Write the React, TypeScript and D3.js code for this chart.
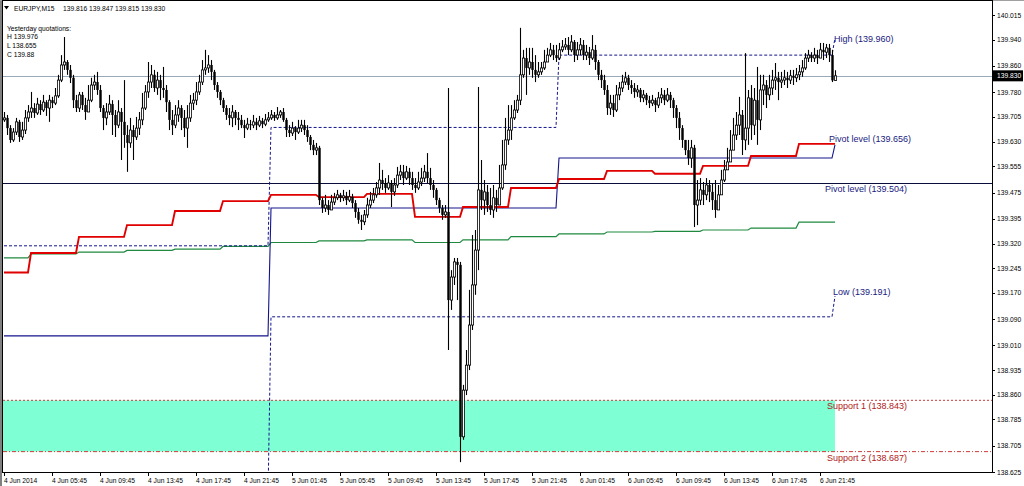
import React from 'react';
import * as d3 from 'd3';

const headerTexts = ['EURJPY,M15', '139.816 139.847 139.815 139.830'];
const yesterdayTexts = ['Yesterday quotations:', 'H 139.976', 'L 138.655', 'C 139.88'];

const firstOpen = 139.696;
const closes = [
  139.702,139.671,139.635,139.659,139.690,139.644,139.665,139.702,139.720,139.732,
  139.717,139.744,139.726,139.750,139.732,139.756,139.747,139.769,139.817,139.863,
  139.872,139.848,139.824,139.756,139.732,139.772,139.741,139.720,139.756,139.802,
  139.811,139.787,139.732,139.702,139.720,139.744,139.711,139.680,139.720,139.690,
  139.650,139.626,139.665,139.644,139.671,139.696,139.732,139.781,139.811,139.833,
  139.793,139.817,139.793,139.787,139.750,139.696,139.680,139.711,139.732,139.702,
  139.671,139.702,139.747,139.756,139.781,139.811,139.848,139.854,139.863,139.842,
  139.802,139.781,139.756,139.732,139.711,139.702,139.720,139.702,139.696,139.680,
  139.671,139.683,139.680,139.690,139.680,139.693,139.683,139.696,139.702,139.711,
  139.702,139.711,139.720,139.696,139.665,139.656,139.671,139.659,139.671,139.680,
  139.665,139.644,139.620,139.604,139.611,139.452,139.428,139.437,139.422,139.446,
  139.459,139.468,139.459,139.465,139.452,139.462,139.443,139.416,139.392,139.386,
  139.407,139.437,139.452,139.468,139.489,139.513,139.504,139.489,139.504,139.477,
  139.498,139.528,139.538,139.519,139.538,139.519,139.498,139.489,139.507,139.519,
  139.538,139.519,139.498,139.483,139.452,139.428,139.407,139.416,139.148,139.218,
  139.264,139.255,138.732,138.874,138.950,139.072,139.194,139.300,139.483,139.452,
  139.477,139.437,139.422,139.459,139.437,139.489,139.559,139.635,139.665,139.702,
  139.726,139.756,139.833,139.884,139.854,139.872,139.848,139.833,139.842,139.854,
  139.872,139.893,139.909,139.893,139.884,139.909,139.918,139.924,139.909,139.933,
  139.893,139.909,139.924,139.893,139.902,139.884,139.909,139.872,139.833,139.817,
  139.787,139.732,139.747,139.726,139.772,139.793,139.811,139.824,139.802,139.793,
  139.781,139.787,139.763,139.772,139.756,139.747,139.756,139.741,139.763,139.772,
  139.756,139.772,139.756,139.732,139.702,139.671,139.635,139.604,139.580,139.611,
  139.437,139.452,139.483,139.468,139.498,139.477,139.452,139.422,139.468,139.513,
  139.544,139.568,139.604,139.650,139.680,139.711,139.635,139.671,139.763,139.680,
  139.756,139.696,139.787,139.802,139.772,139.793,139.817,139.824,139.811,139.817,
  139.824,139.817,139.830,139.824,139.833,139.842,139.854,139.884,139.893,139.884,
  139.893,139.884,139.909,139.902,139.915,139.893,139.816,139.830,
];
const highs = [
  139.720,139.711,139.680,139.671,139.702,139.696,139.690,139.726,139.741,139.781,
  139.747,139.763,139.756,139.772,139.756,139.772,139.766,139.793,139.833,139.893,
  139.948,139.878,139.863,139.833,139.772,139.781,139.781,139.763,139.802,139.824,
  139.833,139.842,139.802,139.741,139.747,139.772,139.756,139.726,139.756,139.732,
  139.817,139.680,139.702,139.680,139.705,139.720,139.778,139.802,139.872,139.863,
  139.848,139.842,139.833,139.857,139.802,139.756,139.726,139.741,139.756,139.741,
  139.726,139.741,139.772,139.778,139.811,139.833,139.878,139.909,139.893,139.878,
  139.848,139.811,139.787,139.763,139.741,139.732,139.741,139.726,139.720,139.711,
  139.696,139.702,139.696,139.711,139.702,139.708,139.702,139.714,139.720,139.726,
  139.720,139.735,139.726,139.732,139.702,139.680,139.690,139.677,139.696,139.696,
  139.696,139.680,139.650,139.635,139.626,139.617,139.459,139.468,139.452,139.468,
  139.474,139.483,139.474,139.483,139.477,139.483,139.471,139.452,139.428,139.407,
  139.422,139.459,139.477,139.489,139.507,139.565,139.544,139.519,139.528,139.513,
  139.519,139.553,139.559,139.559,139.556,139.550,139.538,139.519,139.538,139.550,
  139.559,139.595,139.550,139.513,139.489,139.459,139.437,139.437,139.793,139.239,
  139.276,139.276,139.264,138.890,138.996,139.179,139.346,139.361,139.796,139.574,
  139.513,139.498,139.489,139.498,139.483,139.559,139.635,139.702,139.741,139.741,
  139.756,139.772,139.976,139.909,139.915,139.915,139.915,139.893,139.872,139.872,
  139.909,139.915,139.930,139.924,139.924,139.930,139.939,139.945,139.948,139.954,
  139.939,139.933,139.945,139.939,139.924,139.918,139.954,139.924,139.878,139.848,
  139.833,139.802,139.772,139.772,139.802,139.811,139.833,139.842,139.833,139.817,
  139.808,139.802,139.793,139.787,139.778,139.769,139.772,139.763,139.781,139.793,
  139.787,139.793,139.781,139.763,139.741,139.720,139.680,139.635,139.635,139.635,
  139.620,139.513,139.519,139.507,139.519,139.513,139.504,139.513,139.498,139.544,
  139.574,139.611,139.665,139.702,139.720,139.766,139.726,139.899,139.787,139.802,
  139.793,139.857,139.833,139.833,139.817,139.833,139.848,139.869,139.842,139.842,
  139.848,139.842,139.848,139.848,139.854,139.863,139.878,139.899,139.909,139.902,
  139.915,139.909,139.930,139.930,139.927,139.927,139.909,139.847,
];
const lows = [
  139.690,139.650,139.626,139.629,139.650,139.629,139.635,139.653,139.690,139.702,
  139.702,139.711,139.711,139.720,139.708,139.690,139.732,139.741,139.763,139.811,
  139.848,139.833,139.808,139.732,139.720,139.720,139.726,139.696,139.720,139.750,
  139.787,139.772,139.720,139.665,139.680,139.711,139.650,139.644,139.671,139.574,
  139.611,139.538,139.611,139.574,139.635,139.650,139.680,139.726,139.763,139.793,
  139.781,139.772,139.756,139.763,139.720,139.665,139.650,139.671,139.690,139.665,
  139.644,139.611,139.690,139.726,139.741,139.772,139.802,139.833,139.839,139.817,
  139.787,139.763,139.741,139.720,139.696,139.680,139.674,139.680,139.665,139.671,
  139.641,139.665,139.665,139.671,139.665,139.674,139.671,139.677,139.690,139.696,
  139.693,139.696,139.702,139.690,139.644,139.644,139.647,139.635,139.653,139.659,
  139.650,139.629,139.604,139.589,139.589,139.437,139.413,139.416,139.407,139.422,
  139.437,139.452,139.446,139.449,139.437,139.446,139.428,139.398,139.380,139.361,
  139.376,139.398,139.428,139.443,139.459,139.468,139.483,139.474,139.483,139.431,
  139.465,139.489,139.513,139.498,139.513,139.498,139.483,139.474,139.483,139.495,
  139.507,139.504,139.483,139.459,139.437,139.413,139.392,139.398,138.996,139.118,
  139.194,139.148,138.655,138.723,138.859,138.935,139.057,139.164,139.239,139.422,
  139.407,139.416,139.407,139.398,139.416,139.437,139.483,139.544,139.620,139.635,
  139.696,139.717,139.741,139.824,139.772,139.833,139.824,139.811,139.824,139.833,
  139.848,139.872,139.887,139.878,139.872,139.878,139.902,139.909,139.893,139.902,
  139.872,139.878,139.893,139.878,139.878,139.863,139.878,139.848,139.817,139.793,
  139.772,139.711,139.711,139.705,139.720,139.756,139.781,139.802,139.787,139.775,
  139.763,139.766,139.750,139.750,139.741,139.732,139.738,139.720,139.732,139.747,
  139.741,139.750,139.732,139.702,139.671,139.635,139.611,139.589,139.559,139.550,
  139.370,139.376,139.437,139.437,139.452,139.446,139.422,139.398,139.437,139.468,
  139.507,139.544,139.580,139.604,139.635,139.650,139.589,139.604,139.620,139.635,
  139.650,139.620,139.665,139.741,139.732,139.756,139.772,139.787,139.756,139.793,
  139.802,139.793,139.805,139.802,139.811,139.817,139.827,139.848,139.872,139.872,
  139.872,139.866,139.884,139.878,139.884,139.872,139.811,139.815,
];

// 4-hour moving levels (segment start bar indices)
const segStarts = [0, 9, 25, 41, 57, 73, 89, 105, 121, 137, 153, 169, 185, 201, 217, 233, 249, 265];
const redLevels = [139.232, 139.291, 139.340, 139.376, 139.419, 139.449, 139.468, 139.461, 139.471, 139.401, 139.431, 139.489, 139.516, 139.541, 139.532, 139.556, 139.586, 139.623];
const greenLevels = [139.276, 139.288, 139.294, 139.299, 139.303, 139.311, 139.323, 139.328, 139.331, 139.323, 139.331, 139.341, 139.349, 139.355, 139.357, 139.361, 139.367, 139.385];

// daily levels
const dayStarts = [0, 89, 185, 277];
const pivotLevels = [139.039, 139.428, 139.580, 139.620];
const highLevels = [139.313, 139.673, 139.893, 139.945];
const lowLevels = [138.550, 139.097, 139.097, 139.160];

const bidPrice = 139.830;
const dailyPivot = 139.504;
const support1 = 138.843;
const support2 = 138.687;

const yTicks = [140.015, 139.940, 139.860, 139.780, 139.705, 139.630, 139.555, 139.475, 139.395, 139.320, 139.245, 139.170, 139.090, 139.010, 138.935, 138.860, 138.785, 138.705, 138.625];
const xTickLabels = ['4 Jun 2014', '4 Jun 05:45', '4 Jun 09:45', '4 Jun 13:45', '4 Jun 17:45', '4 Jun 21:45', '5 Jun 01:45', '5 Jun 05:45', '5 Jun 09:45', '5 Jun 13:45', '5 Jun 17:45', '5 Jun 21:45', '6 Jun 01:45', '6 Jun 05:45', '6 Jun 09:45', '6 Jun 13:45', '6 Jun 17:45', '6 Jun 21:45'];
const xTickStep = 16;

const levelLabels = [
  { text: 'High (139.960)', value: 139.960, dx: -1, color: '#1a1a80' },
  { text: 'Pivot level (139.656)', value: 139.656, dx: -6, color: '#1a1a80' },
  { text: 'Pivot level (139.504)', value: 139.504, dx: -10, color: '#1a1a80' },
  { text: 'Low (139.191)', value: 139.191, dx: -2, color: '#1a1a80' },
  { text: 'Support 1 (138.843)', value: 138.843, dx: -8, color: '#b02020' },
  { text: 'Support 2 (138.687)', value: 138.687, dx: -8, color: '#b02020' },
];

const FONT = '"Liberation Sans", Arial, sans-serif';

export default function App() {
  const W = 1024, H = 486;
  const L = 3, R = 992, T = 1, B = 472;
  const n = closes.length;
  const x = d3.scaleLinear().domain([0, n - 1]).range([4, 835]);
  const y = d3.scaleLinear().domain([138.625, 140.015]).range([472, 15]);

  const perBar = (starts: number[], levels: number[]) =>
    closes.map((_, i) => levels[d3.bisectRight(starts, i) - 1]);
  const lineGen = d3.line<number>().x((_, i) => x(i)).y((v) => y(v));

  const red = perBar(segStarts, redLevels);
  const green = perBar(segStarts, greenLevels);
  const piv = perBar(dayStarts, pivotLevels);
  const hiL = perBar(dayStarts, highLevels);
  const loL = perBar(dayStarts, lowLevels);

  const bars = closes.map((c, i) => {
    const o = i === 0 ? firstOpen : closes[i - 1];
    return { i, o, c, h: Math.max(highs[i], o, c), l: Math.min(lows[i], o, c) };
  });

  return (
    <svg width={W} height={H} style={{ position: 'absolute', left: 0, top: 0, background: '#fff' }} fontFamily={FONT}>
      <defs>
        <clipPath id="plot">
          <rect x={L} y={T} width={R - L} height={B - T} />
        </clipPath>
      </defs>
      <rect x={0} y={0} width={W} height={H} fill="#fff" />
      <g clipPath="url(#plot)">
        <rect x={L} y={y(support1)} width={x(n - 1) - L} height={y(support2) - y(support1)} fill="#7fffd4" />
        <line x1={L} x2={R} y1={y(support1)} y2={y(support1)} stroke="#d03a3a" strokeDasharray="2,2" />
        <line x1={L} x2={R} y1={y(support2)} y2={y(support2)} stroke="#d03a3a" strokeDasharray="4,2,1,2" />
        <line x1={L} x2={R} y1={Math.round(y(bidPrice)) + 0.5} y2={Math.round(y(bidPrice)) + 0.5} stroke="#9aa9b8" />
        <line x1={L} x2={R} y1={Math.round(y(dailyPivot)) + 0.5} y2={Math.round(y(dailyPivot)) + 0.5} stroke="#0c0c3c" />
        <path d={lineGen(green) || ''} fill="none" stroke="#1f8a3f" strokeWidth={1.2} />
        <path d={lineGen(piv) || ''} fill="none" stroke="#14148c" strokeWidth={1.1} />
        <path d={lineGen(hiL) || ''} fill="none" stroke="#14148c" strokeWidth={1} strokeDasharray="3,2" />
        <path d={lineGen(loL) || ''} fill="none" stroke="#14148c" strokeWidth={1} strokeDasharray="3,2" />
        <path d={lineGen(red) || ''} fill="none" stroke="#e00000" strokeWidth={1.9} />
        {bars.map((b) => {
          const cx = Math.round(x(b.i));
          const yo = y(b.o), yc = y(b.c);
          const top = Math.min(yo, yc), bot = Math.max(yo, yc);
          const bull = b.c >= b.o;
          return (
            <g key={b.i}>
              <line x1={cx + 0.5} x2={cx + 0.5} y1={y(b.h)} y2={y(b.l)} stroke="#000" strokeWidth={1.1} />
              {bull ? (
                <rect x={cx - 0.6} y={top} width={2.2} height={Math.max(bot - top, 1)} fill="#fff" stroke="#000" strokeWidth={0.8} />
              ) : (
                <rect x={cx - 0.7} y={top} width={2.4} height={Math.max(bot - top, 1)} fill="#000" />
              )}
            </g>
          );
        })}
      </g>
      {/* frame */}
      <rect x={0} y={0} width={2} height={H} fill="#808080" />
      <line x1={0} x2={W} y1={0.5} y2={0.5} stroke="#a0a0a0" />
      <rect x={L - 0.5} y={T - 0.5} width={R - L + 1} height={B - T + 1} fill="none" stroke="#000" />

      {/* header */}
      <path d="M4,6 L9,6 L6.5,9.5 Z" fill="#000" />
      <text x={14} y={10.5} fontSize={6.7} fill="#000">{headerTexts[0]}</text>
      <text x={63} y={10.5} fontSize={6.7} fill="#000" style={{ whiteSpace: 'pre' }}>{headerTexts[1]}</text>
      {yesterdayTexts.map((t, k) => (
        <text key={t} x={7} y={30.5 + k * 8.7} fontSize={6.7} fill="#000">{t}</text>
      ))}

      {/* level labels */}
      {levelLabels.map((lb) => (
        <text key={lb.text} x={x(n - 1) + lb.dx} y={y(lb.value) + 9} fontSize={9} fill={lb.color}>{lb.text}</text>
      ))}

      {/* right price axis */}
      {yTicks.map((v) => (
        <g key={v}>
          <line x1={R} x2={R + 3} y1={Math.round(y(v)) + 0.5} y2={Math.round(y(v)) + 0.5} stroke="#000" />
          <text x={R + 5} y={y(v) + 2.5} fontSize={6.7} fill="#000">{v.toFixed(3)}</text>
        </g>
      ))}
      <rect x={R + 1} y={y(bidPrice) - 5.5} width={30} height={11} fill="#000" />
      <text x={R + 5} y={y(bidPrice) + 2.5} fontSize={6.7} fill="#fff">{bidPrice.toFixed(3)}</text>

      {/* bottom time axis */}
      {xTickLabels.map((t, k) => {
        const tx = Math.round(x(k * xTickStep));
        return (
          <g key={t}>
            <line x1={tx + 0.5} x2={tx + 0.5} y1={B} y2={B + 4} stroke="#000" />
            <text x={tx} y={483} fontSize={6.7} fill="#000">{t}</text>
          </g>
        );
      })}
    </svg>
  );
}
